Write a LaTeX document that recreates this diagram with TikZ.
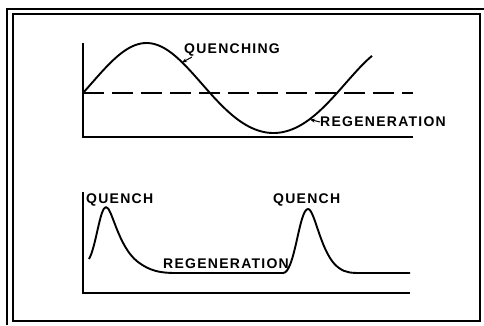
\documentclass[tikz,border=0pt]{standalone}
\usepackage{fontspec}
\setmainfont{Liberation Sans}[LetterSpace=9]
\usetikzlibrary{arrows.meta}
\begin{document}
\begin{tikzpicture}[
                      x=1pt, y=-1pt,
                      frameline/.style = {line width=1.4pt},
                      axis/.style = {line width=1.3pt},
                      curve/.style = {line width=1.9pt, line join=round},
                      refline/.style = {line width=1.4pt, dash pattern=on 21pt off 8pt},
                      lbl/.style = {inner sep=0pt, anchor=base west, font=\fontsize{14}{15}\selectfont\bfseries},
                      pointer/.style = {line width=1pt, -{Stealth[length=5pt, width=4pt]}},
                      declare function = {wave(\t) = sin((\t-83)/254*360);}
                  ]
                  \useasboundingbox (0,0) rectangle (484,325);
                  \draw[frameline] (484,9) -- (7,9) -- (7,325);
                  \draw[frameline] (13,14) rectangle (480,321);
                  \draw[axis] (83,43) -- (83,137) -- (413,137);
                  \draw[refline] (83,93) -- (413,93);
                  \draw[curve] plot[domain=83:372, samples=120]
                      (\x, {93-45*wave(\x)-5*wave(\x)*wave(\x)});
                  \coordinate (quenchtip) at (182,62.5);
                  \coordinate (regentip) at (310,119.5);
                  \node[lbl] (quenching) at (184,53) {QUENCHING};
                  \node[lbl] (regen) at (320,126) {REGENERATION};
                  \draw[pointer] ([xshift=8pt, yshift=-4pt]quenching.base west) -- (quenchtip);
                  \draw[pointer] ([yshift=4pt]regen.base west) -- (regentip);
                  \draw[axis] (83,192) -- (83,293) -- (410,293);
                  \draw[curve] (89,259) .. controls (96,247) and (100,207) .. (106,207)
                      .. controls (112,207) and (118,247) .. (138,262)
                      .. controls (150,271) and (160,273) .. (176,273) -- (283,273)
                      .. controls (295,273) and (299,209) .. (308,209)
                      .. controls (315,209) and (321,256) .. (339,268)
                      .. controls (346,273) and (352,273) .. (362,273) -- (410,273);
                  \node[lbl] (quenchl) at (86,203) {QUENCH};
                  \node[lbl] (quenchr) at (273,203) {QUENCH};
                  \node[lbl] (regenb) at (163,268) {REGENERATION};
              \end{tikzpicture}
\end{document}
